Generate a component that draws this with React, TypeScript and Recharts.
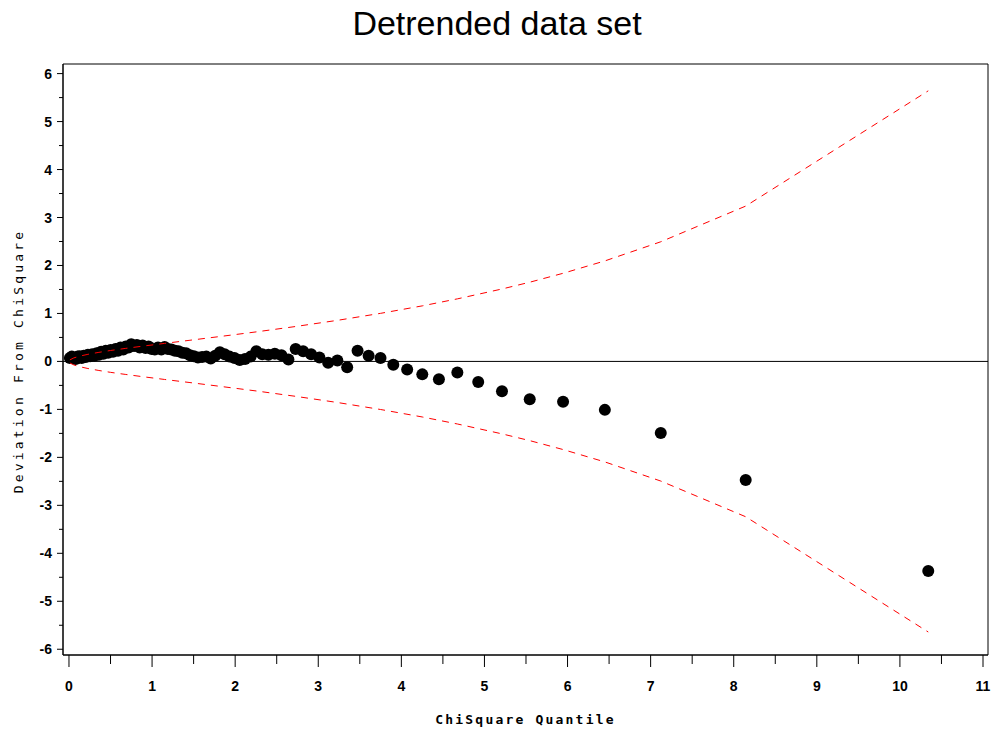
import React from "react";
import {
  ScatterChart,
  Scatter,
  XAxis,
  YAxis,
  ReferenceLine,
  ReferenceArea,
} from "recharts";

// chi-square quantiles (x) and detrended deviations (y)
const quantiles = [
  0.011, 0.034, 0.058, 0.081, 0.105, 0.129, 0.153, 0.178, 0.203, 0.228,
  0.254, 0.28, 0.306, 0.333, 0.36, 0.387, 0.415, 0.443, 0.472, 0.501,
  0.53, 0.56, 0.59, 0.621, 0.653, 0.684, 0.717, 0.749, 0.783, 0.817,
  0.851, 0.886, 0.922, 0.958, 0.995, 1.033, 1.071, 1.111, 1.151, 1.191,
  1.233, 1.276, 1.319, 1.364, 1.409, 1.456, 1.503, 1.552, 1.602, 1.653,
  1.706, 1.76, 1.816, 1.873, 1.932, 1.992, 2.055, 2.119, 2.186, 2.255,
  2.326, 2.4, 2.477, 2.557, 2.641, 2.728, 2.818, 2.914, 3.014, 3.119,
  3.23, 3.348, 3.473, 3.606, 3.749, 3.903, 4.07, 4.252, 4.452, 4.674,
  4.925, 5.211, 5.545, 5.946, 6.449, 7.122, 8.144, 10.341,
];
const deviations = [
  0.07, 0.1, 0.06, 0.05, 0.1, 0.11, 0.07, 0.12, 0.09, 0.14,
  0.11, 0.15, 0.12, 0.17, 0.14, 0.2, 0.16, 0.22, 0.18, 0.24,
  0.2, 0.26, 0.22, 0.29, 0.25, 0.31, 0.29, 0.36, 0.32, 0.34,
  0.29, 0.33, 0.28, 0.31, 0.26, 0.25, 0.29, 0.25, 0.3, 0.26,
  0.25, 0.22, 0.21, 0.18, 0.17, 0.13, 0.11, 0.08, 0.09, 0.1,
  0.06, 0.12, 0.19, 0.15, 0.1, 0.07, 0.03, 0.05, 0.1, 0.21,
  0.15, 0.14, 0.16, 0.13, 0.04, 0.26, 0.21, 0.15, 0.08, -0.03,
  0.02, -0.12, 0.22, 0.12, 0.07, -0.07, -0.17, -0.27, -0.37, -0.23,
  -0.43, -0.62, -0.79, -0.84, -1.01, -1.49, -2.47, -4.37,
];

// confidence band (red dashed)
const bandX = [
  0.011, 0.058, 0.129, 0.228, 0.36, 0.501, 0.684, 0.886, 1.151, 1.456,
  1.816, 2.255, 2.728, 3.23, 3.749, 4.252, 4.674, 5.211, 5.545, 5.946,
  6.449, 7.122, 8.144, 10.341,
];
const bandUpper = [
  0.032, 0.073, 0.11, 0.148, 0.189, 0.228, 0.272, 0.318, 0.376, 0.441,
  0.519, 0.616, 0.728, 0.856, 1.002, 1.158, 1.304, 1.51, 1.651, 1.837,
  2.095, 2.494, 3.238, 5.641,
];
const bandLower = [
  -0.032, -0.073, -0.11, -0.148, -0.189, -0.228, -0.272, -0.318, -0.376, -0.441,
  -0.519, -0.616, -0.728, -0.856, -1.002, -1.158, -1.304, -1.51, -1.651, -1.837,
  -2.095, -2.494, -3.238, -5.641,
];

const xTicks = [0, 0.5, 1, 1.5, 2, 2.5, 3, 3.5, 4, 4.5, 5, 5.5, 6, 6.5, 7, 7.5, 8, 8.5, 9, 9.5, 10, 10.5, 11];
const yTicks = [-6, -5.5, -5, -4.5, -4, -3.5, -3, -2.5, -2, -1.5, -1, -0.5, 0, 0.5, 1, 1.5, 2, 2.5, 3, 3.5, 4, 4.5, 5, 5.5, 6];

const points = quantiles.map((q, i) => ({ x: q, y: deviations[i] }));
const upper = bandX.map((q, i) => ({ x: q, y: bandUpper[i] }));
const lower = bandX.map((q, i) => ({ x: q, y: bandLower[i] }));

const X_DOMAIN: [number, number] = [-0.072, 11.06];
const Y_DOMAIN: [number, number] = [-6.12, 6.2];

const tickFont = '"Liberation Sans Narrow", "Liberation Sans", Arial, sans-serif';

function XTick(props: any) {
  const { x, y, payload } = props;
  const major = Number.isInteger(payload.value);
  return (
    <g>
      <line x1={x} x2={x} y1={y} y2={y + (major ? 12 : 9)} stroke="#000" />
      {major && (
        <text x={x} y={y + 36} textAnchor="middle" fontFamily={tickFont} fontWeight="bold" fontSize={14} fill="#000">
          {payload.value}
        </text>
      )}
    </g>
  );
}

function YTick(props: any) {
  const { x, y, payload } = props;
  const major = Number.isInteger(payload.value);
  return (
    <g>
      <line x1={x - (major ? 6 : 4)} x2={x} y1={y} y2={y} stroke="#000" />
      {major && (
        <text x={x - 11} y={y + 5} textAnchor="end" fontFamily={tickFont} fontWeight="bold" fontSize={14} fill="#000">
          {payload.value}
        </text>
      )}
    </g>
  );
}

const Dot = (props: any) => <circle cx={props.cx} cy={props.cy} r={6} fill="#000" />;
const NoDot = () => null;

export default function App() {
  return (
    <div style={{ position: "absolute", left: 0, top: 0, width: 994, height: 731, background: "#fff" }}>
      <ScatterChart width={994} height={731} margin={{ top: 64, right: 6, bottom: 0, left: 0 }}>
        <XAxis
          type="number"
          dataKey="x"
          domain={X_DOMAIN}
          allowDataOverflow
          ticks={xTicks}
          interval={0}
          tick={<XTick />}
          tickLine={false}
          tickSize={0}
          tickMargin={0}
          height={76}
          axisLine={{ stroke: "#000" }}
        />
        <YAxis
          type="number"
          dataKey="y"
          domain={Y_DOMAIN}
          allowDataOverflow
          ticks={yTicks}
          interval={0}
          tick={<YTick />}
          tickLine={false}
          tickSize={0}
          tickMargin={0}
          width={63}
          axisLine={{ stroke: "#000" }}
        />
        <ReferenceArea
          x1={X_DOMAIN[0]}
          x2={X_DOMAIN[1]}
          y1={Y_DOMAIN[0]}
          y2={Y_DOMAIN[1]}
          fill="none"
          stroke="#000"
          ifOverflow="visible"
        />
        <ReferenceLine y={0} stroke="#000" strokeWidth={1} />
        <Scatter data={points} shape={Dot} isAnimationActive={false} />
        <Scatter
          data={upper}
          shape={NoDot}
          line={{ stroke: "#ff0000", strokeWidth: 1, strokeDasharray: "7 6" }}
          isAnimationActive={false}
        />
        <Scatter
          data={lower}
          shape={NoDot}
          line={{ stroke: "#ff0000", strokeWidth: 1, strokeDasharray: "7 6" }}
          isAnimationActive={false}
        />
      </ScatterChart>
      <div
        style={{
          position: "absolute",
          left: 0,
          top: 4,
          width: 994,
          textAlign: "center",
          fontFamily: '"Liberation Sans", Arial, sans-serif',
          fontSize: 34,
          color: "#000",
        }}
      >
        Detrended data set
      </div>
      <div
        style={{
          position: "absolute",
          left: 63,
          top: 712,
          width: 925,
          textAlign: "center",
          fontFamily: '"DejaVu Sans Mono", monospace',
          fontWeight: "bold",
          fontSize: 13,
          letterSpacing: 2.2,
          color: "#000",
        }}
      >
        ChiSquare Quantile
      </div>
      <div
        style={{
          position: "absolute",
          left: 18,
          top: 361,
          transform: "translate(-50%, -50%) rotate(-90deg)",
          whiteSpace: "nowrap",
          fontFamily: '"DejaVu Sans Mono", monospace',
          fontSize: 13,
          letterSpacing: 3.2,
          color: "#000",
        }}
      >
        Deviation From ChiSquare
      </div>
    </div>
  );
}
